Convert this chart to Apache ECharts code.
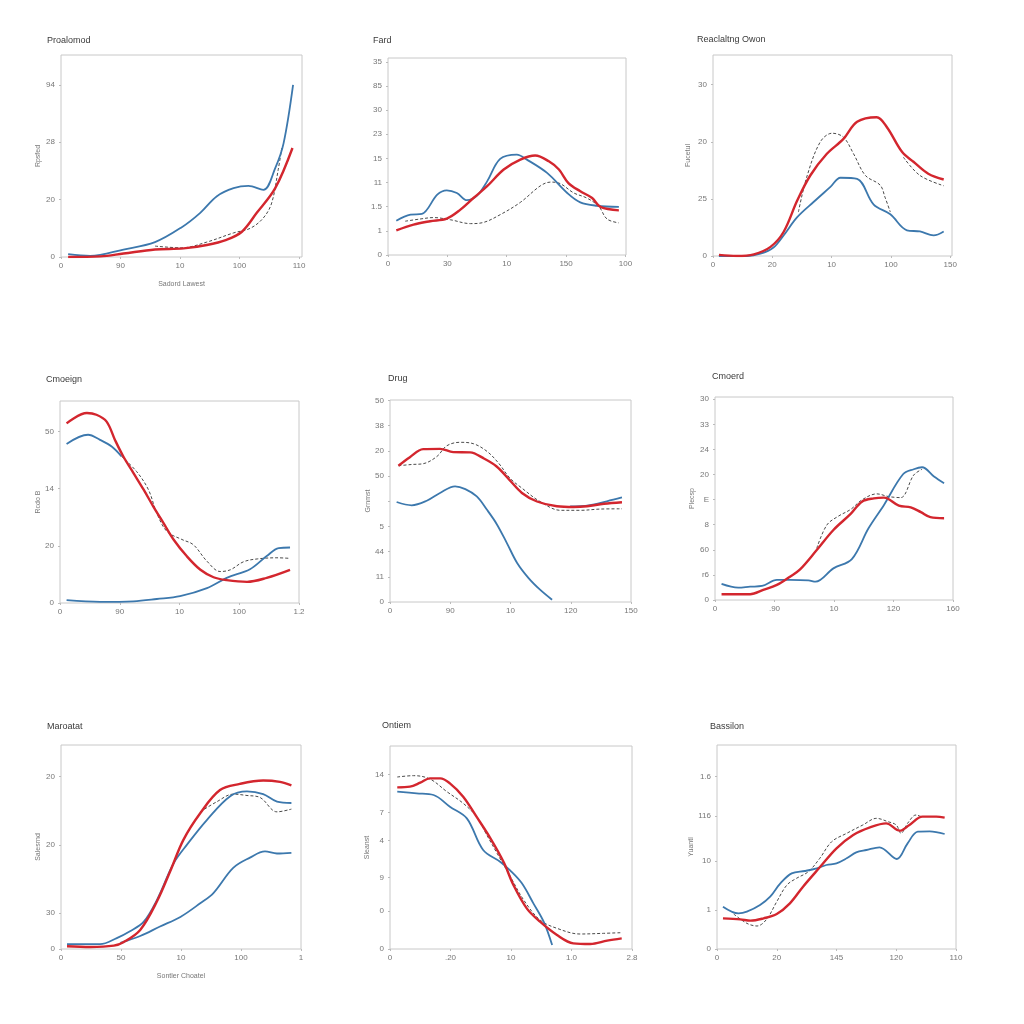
<!DOCTYPE html>
<html><head><meta charset="utf-8">
<script src="https://cdn.jsdelivr.net/npm/echarts@6/dist/echarts.min.js"></script>
<style>html,body{margin:0;padding:0;background:#fff}#c{width:1024px;height:1024px}</style>
</head><body><div id="c"></div>
<script>
// ---------- titles ----------
const titles = ['Proalomod','Fard','Reaclaltng Owon','Cmoeign','Drug','Cmoerd','Maroatat','Ontiem','Bassilon'];
// ---------- axis names ----------
const yNames = ['Rpsfed','','Fucetul','Rcdo B','Grnmst','Plecsp','Salesrnd','Sleanst','Yuantl'];
const xNames = ['Sadord Lawest','','','','','','Sontler Choatel','',''];
// ---------- x tick labels (ticks at 0..4) ----------
const xTickValues = [0,1,2,3,4];
const xLabels = [
  ['0','90','10','100','110'],
  ['0','30','10','150','100'],
  ['0','20','10','100','150'],
  ['0','90','10','100','1.2'],
  ['0','90','10','120','150'],
  ['0','.90','10','120','160'],
  ['0','50','10','100','1'],
  ['0','.20','10','1.0','2.8'],
  ['0','20','145','120','110']
];
// ---------- y tick values / labels ----------
const yTickValues = [
  [0,1,2,3],
  [0,1,2,3,4,5,6,7,8],
  [0,1,2,3],
  [0,1,2,3],
  [0,1,2,3,4,5,6,7,8],
  [0,1,2,3,4,5,6,7,8],
  [0,0.527,1.527,2.527],
  [0,1.14,2.14,3.25,4.10,5.24],
  [0,1.17,2.64,3.99,5.17]
];
const yLabels = [
  ['0','20','28','94'],
  ['0','1','1.5','11','15','23','30','85','35'],
  ['0','25','20','30'],
  ['0','20','14','50'],
  ['0','11','44','5','','50','20','38','50'],
  ['0','r6','60','8','E','20','24','33','30'],
  ['0','30','20','20'],
  ['0','0','9','4','7','14'],
  ['0','1','10','116','1.6']
];
const xMax = [4.05,4.01,4.03,4.0,4.0,4.0,4.0,4.0,4.0];
const yMax = [3.52,8.16,3.52,3.53,8.02,8.09,2.99,6.09,6.12];

// ---------- series data ----------
const p1Blue = [[0.12,0.05],[0.49,0.02],[1.05,0.13],[1.58,0.26],[2.03,0.52],[2.34,0.77],[2.62,1.06],[2.90,1.20],[3.15,1.24],[3.40,1.17],[3.60,1.55],[3.74,1.98],[3.90,3.00]];
const p1Red = [[0.12,0.0],[0.66,0.01],[1.05,0.06],[1.58,0.13],[2.06,0.15],[2.45,0.21],[2.78,0.30],[3.04,0.44],[3.29,0.77],[3.60,1.20],[3.89,1.90]];
const p1Dash = [[1.58,0.19],[2.03,0.16],[2.45,0.26],[2.90,0.42],[3.18,0.50],[3.40,0.68],[3.54,0.94],[3.65,1.52],[3.71,1.90]];

const p2Blue = [[0.14,1.42],[0.38,1.67],[0.57,1.70],[0.83,2.50],[0.99,2.68],[1.16,2.57],[1.33,2.27],[1.50,2.46],[1.67,3.05],[1.89,3.98],[2.17,4.16],[2.34,3.95],[2.68,3.40],[3.02,2.57],[3.24,2.18],[3.52,2.04],[3.89,1.99]];
const p2Red = [[0.14,1.02],[0.43,1.26],[0.71,1.40],[0.99,1.51],[1.22,1.88],[1.44,2.36],[1.67,2.85],[1.95,3.54],[2.23,3.95],[2.48,4.12],[2.71,3.88],[2.88,3.54],[3.04,2.98],[3.24,2.64],[3.44,2.36],[3.58,1.99],[3.89,1.85]];
const p2Dash = [[0.29,1.40],[0.54,1.49],[0.77,1.55],[1.05,1.46],[1.39,1.30],[1.61,1.35],[1.89,1.67],[2.23,2.18],[2.57,2.87],[2.74,3.02],[2.90,2.96],[3.13,2.57],[3.35,2.36],[3.55,2.02],[3.69,1.49],[3.89,1.33]];

const p3Blue = [[0.10,0],[0.57,0],[0.80,0.04],[1.02,0.15],[1.19,0.36],[1.42,0.68],[1.70,0.95],[1.98,1.21],[2.15,1.37],[2.43,1.35],[2.71,0.90],[2.99,0.73],[3.27,0.45],[3.49,0.43],[3.72,0.36],[3.89,0.43]];
const p3Red = [[0.10,0.02],[0.40,0],[0.69,0.03],[0.97,0.16],[1.19,0.42],[1.42,0.97],[1.64,1.41],[1.92,1.79],[2.20,2.05],[2.43,2.35],[2.76,2.43],[2.93,2.26],[3.19,1.82],[3.38,1.65],[3.63,1.44],[3.89,1.34]];
const p3Dash = [[1.44,0.77],[1.58,1.38],[1.81,2.00],[2.01,2.15],[2.20,2.08],[2.37,1.79],[2.57,1.41],[2.82,1.24],[2.90,1.03],[2.99,0.77],[3.10,null],[3.21,1.73],[3.49,1.41],[3.89,1.23]];

const p4Red = [[0.11,3.14],[0.45,3.32],[0.61,3.29],[0.78,3.17],[0.92,2.85],[1.06,2.56],[1.23,2.27],[1.40,1.98],[1.56,1.69],[1.73,1.40],[1.90,1.11],[2.12,0.82],[2.35,0.58],[2.57,0.45],[2.79,0.40],[3.13,0.37],[3.46,0.44],[3.85,0.58]];
const p4BlueA = [[0.11,2.78],[0.47,2.94],[0.67,2.85],[0.87,2.73],[1.03,2.56]];
const p4Dash = [[1.03,2.56],[1.28,2.30],[1.48,1.98],[1.62,1.57],[1.79,1.25],[2.04,1.11],[2.23,1.02],[2.46,0.73],[2.68,0.55],[2.85,0.58],[3.07,0.72],[3.30,0.77],[3.63,0.79],[3.85,0.78]];
const p4BlueB = [[0.11,0.05],[0.67,0.02],[1.23,0.03],[1.62,0.07],[2.01,0.12],[2.46,0.26],[2.79,0.44],[3.18,0.59],[3.46,0.82],[3.66,0.96],[3.85,0.97]];

const p5Red = [[0.14,5.41],[0.33,5.75],[0.55,6.07],[0.83,6.08],[1.05,5.95],[1.33,5.94],[1.55,5.71],[1.77,5.38],[1.99,4.83],[2.19,4.33],[2.44,3.99],[2.77,3.80],[3.05,3.77],[3.27,3.80],[3.55,3.90],[3.85,3.96]];
const p5BlueA = [[0.11,3.97],[0.36,3.84],[0.61,4.02],[0.83,4.33],[1.08,4.59],[1.25,4.48],[1.44,4.19],[1.61,3.66],[1.77,3.10],[1.94,2.34],[2.11,1.55],[2.30,0.95],[2.49,0.49],[2.69,0.09]];
const p5BlueB = [[2.99,3.80],[3.30,3.84],[3.60,4.00],[3.85,4.15]];
const p5Dash = [[0.14,5.41],[0.36,5.46],[0.55,5.49],[0.78,5.78],[0.94,6.20],[1.16,6.34],[1.39,6.28],[1.61,5.98],[1.80,5.52],[1.99,4.92],[2.19,4.52],[2.49,3.99],[2.83,3.64],[3.16,3.64],[3.49,3.69],[3.85,3.70]];

const p6Blue = [[0.11,0.64],[0.39,0.49],[0.59,0.53],[0.79,0.56],[1.04,0.80],[1.26,0.80],[1.57,0.78],[1.69,0.73],[1.99,1.26],[2.30,1.63],[2.58,2.86],[2.84,3.79],[3.16,5.01],[3.34,5.21],[3.48,5.29],[3.68,4.92],[3.85,4.65]];
const p6Red = [[0.11,0.23],[0.59,0.23],[0.81,0.40],[1.04,0.60],[1.26,0.93],[1.43,1.22],[1.71,1.99],[1.99,2.79],[2.28,3.43],[2.47,3.92],[2.67,4.05],[2.84,4.08],[3.09,3.76],[3.29,3.69],[3.46,3.50],[3.62,3.30],[3.85,3.26]];
const p6Dash = [[1.71,2.06],[1.88,2.99],[2.08,3.35],[2.28,3.61],[2.47,3.99],[2.72,4.23],[2.92,4.12],[3.12,4.08],[3.34,4.98],[3.48,5.21]];

const p7Red = [[0.10,0.04],[0.49,0.03],[0.88,0.05],[1.04,0.10],[1.32,0.28],[1.60,0.70],[1.82,1.14],[2.04,1.60],[2.32,1.99],[2.65,2.33],[2.98,2.42],[3.37,2.47],[3.65,2.45],[3.84,2.40]];
const p7BlueA = [[0.10,0.07],[0.65,0.07],[0.93,0.16],[1.15,0.26],[1.38,0.40],[1.60,0.72],[1.88,1.26],[2.10,1.53],[2.43,1.89],[2.82,2.24],[3.10,2.31],[3.37,2.27],[3.60,2.16],[3.84,2.14]];
const p7Dash = [[2.32,2.01],[2.60,2.16],[2.87,2.27],[3.10,2.25],[3.32,2.22],[3.60,2.01],[3.84,2.05]];
const p7BlueB = [[0.99,0.09],[1.32,0.19],[1.65,0.33],[1.99,0.47],[2.32,0.67],[2.54,0.82],[2.87,1.19],[3.15,1.34],[3.40,1.43],[3.60,1.40],[3.84,1.41]];

const p8Red = [[0.12,4.85],[0.33,4.87],[0.50,4.99],[0.66,5.12],[0.83,5.12],[0.99,4.97],[1.21,4.57],[1.43,3.97],[1.66,3.32],[1.88,2.60],[2.04,1.92],[2.26,1.22],[2.48,0.82],[2.76,0.42],[3.03,0.17],[3.31,0.15],[3.59,0.25],[3.83,0.32]];
const p8Blue = [[0.12,4.72],[0.44,4.67],[0.72,4.62],[0.99,4.27],[1.27,3.92],[1.54,2.97],[1.82,2.62],[1.99,2.35],[2.18,1.97],[2.37,1.37],[2.54,0.82],[2.68,0.12]];
const p8Dash = [[0.12,5.16],[0.39,5.20],[0.66,5.10],[0.94,4.72],[1.21,4.37],[1.43,3.97],[1.60,3.42],[1.77,2.87],[1.99,2.17],[2.21,1.47],[2.48,0.87],[2.76,0.62],[3.14,0.45],[3.53,0.47],[3.83,0.49]];

const p9Blue = [[0.10,1.27],[0.36,1.07],[0.50,1.12],[0.72,1.32],[0.89,1.57],[1.06,1.97],[1.25,2.27],[1.47,2.34],[1.67,2.42],[1.83,2.52],[2.00,2.57],[2.17,2.72],[2.33,2.90],[2.50,2.97],[2.72,3.05],[3.01,2.70],[3.19,3.17],[3.36,3.52],[3.56,3.53],[3.81,3.45]];
const p9Red = [[0.10,0.92],[0.39,0.89],[0.56,0.85],[0.78,0.92],[1.00,1.05],[1.22,1.37],[1.44,1.87],[1.72,2.45],[2.00,3.02],[2.28,3.42],[2.56,3.65],[2.83,3.77],[3.06,3.55],[3.22,3.72],[3.44,3.97],[3.67,3.97],[3.81,3.94]];
const p9Dash = [[0.28,1.05],[0.50,0.77],[0.67,0.69],[0.83,0.89],[1.00,1.42],[1.17,1.92],[1.33,2.12],[1.53,2.32],[1.72,2.72],[1.92,3.22],[2.17,3.47],[2.44,3.72],[2.67,3.92],[2.86,3.82],[3.00,3.72],[3.08,3.47],[3.19,3.77],[3.33,4.02],[3.44,3.95]];

// ---------- layout (px) ----------
const boxes = [
  [61,55,302,257],[388,58,626,255],[713,55,952,256],
  [60,401,299,603],[390,400,631,602],[715,397,953,600],
  [61,745,301,949],[390,746,632,949],[717,745,956,949]
];
const titlePos = [[47,36],[373,36],[697,35],[46,375],[388,374],[712,372],[47,722],[382,721],[710,722]];
const yNameX = [42,0,692,44,372,696,42,371,696];
const xNameY = [281,0,0,0,0,0,973,0,0];

const BLUE = '#3c78ad', RED = '#d3262e', DASH = '#4a4a4a';
const panelSeries = [
  [[p1Blue,'b'],[p1Dash,'d'],[p1Red,'r']],
  [[p2Dash,'d'],[p2Blue,'b'],[p2Red,'r']],
  [[p3Blue,'b'],[p3Dash,'d'],[p3Red,'r']],
  [[p4BlueA,'b'],[p4BlueB,'b'],[p4Dash,'d'],[p4Red,'r']],
  [[p5BlueA,'b'],[p5BlueB,'b'],[p5Dash,'d'],[p5Red,'r']],
  [[p6Blue,'b'],[p6Dash,'d'],[p6Red,'r']],
  [[p7BlueA,'b'],[p7BlueB,'b'],[p7Dash,'d'],[p7Red,'r']],
  [[p8Blue,'b'],[p8Dash,'d'],[p8Red,'r']],
  [[p9Blue,'b'],[p9Dash,'d'],[p9Red,'r']]
];

const FONT = 'Liberation Sans';
function lookup(vals, labs){
  return function(v){
    for (let i=0;i<vals.length;i++) if (Math.abs(vals[i]-v)<1e-6) return labs[i];
    return '';
  };
}

const grid=[], xAxis=[], yAxis=[], series=[], title=[];
for (let i=0;i<9;i++){
  const [l,t,r,b] = boxes[i];
  grid.push({left:l, top:t, width:r-l, height:b-t, show:true, borderColor:'#c8c8c8', borderWidth:1, backgroundColor:'#fff'});
  title.push({text:titles[i], left:titlePos[i][0], top:titlePos[i][1], padding:0, textStyle:{fontFamily:FONT, fontSize:9, fontWeight:'normal', color:'#3a3a3a'}});
  xAxis.push({
    type:'value', gridIndex:i, min:0, max:xMax[i],
    name:xNames[i], nameLocation:'middle', nameGap:xNameY[i]? xNameY[i]-b : 20,
    nameTextStyle:{fontFamily:FONT, fontSize:7, color:'#777'},
    axisLine:{show:false}, splitLine:{show:false},
    axisTick:{show:true, length:2, lineStyle:{color:'#bbb'}, customValues:xTickValues},
    axisLabel:{fontFamily:FONT, fontSize:8, color:'#777', margin:5, customValues:xTickValues, formatter:lookup(xTickValues,xLabels[i]), showMinLabel:true, showMaxLabel:true}
  });
  yAxis.push({
    type:'value', gridIndex:i, min:0, max:yMax[i],
    name:yNames[i], nameLocation:'middle', nameGap:l-yNameX[i], nameRotate:90,
    nameTextStyle:{fontFamily:FONT, fontSize:7, color:'#777'},
    axisLine:{show:false}, splitLine:{show:false},
    axisTick:{show:true, length:2, lineStyle:{color:'#bbb'}, customValues:yTickValues[i]},
    axisLabel:{fontFamily:FONT, fontSize:8, color:'#777', margin:6, customValues:yTickValues[i], formatter:lookup(yTickValues[i],yLabels[i])}
  });
  panelSeries[i].forEach(([d,k])=>{
    series.push({
      type:'line', xAxisIndex:i, yAxisIndex:i, data:d, symbol:'none', smooth:0.35,
      connectNulls:false, silent:true, z: k==='r'?4:(k==='b'?3:2),
      lineStyle: k==='r' ? {color:RED, width:2.4} : k==='b' ? {color:BLUE, width:1.8} : {color:DASH, width:1, type:[3,2]}
    });
  });
}

const chart = echarts.init(document.getElementById('c'), null, {renderer:'canvas'});
chart.setOption({backgroundColor:'#fff', animation:false, title, grid, xAxis, yAxis, series});
</script>
</body></html>
